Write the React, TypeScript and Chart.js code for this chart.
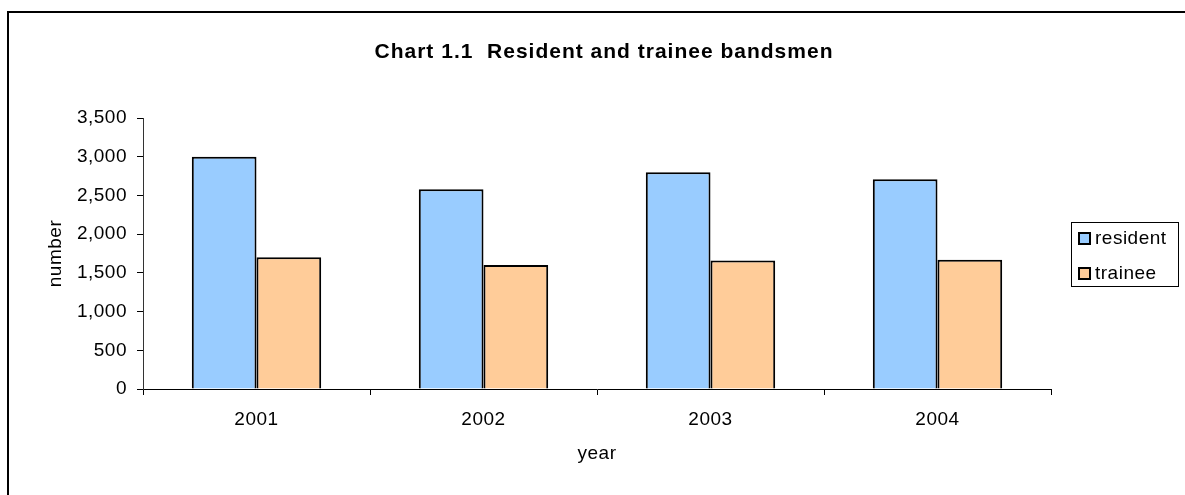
import React, { useEffect, useRef } from "react";
import { Chart, registerables } from "chart.js";

Chart.register(...registerables);

const years = ["2001", "2002", "2003", "2004"];
const resident = [3000, 2580, 2800, 2710];
const trainee = [1700, 1600, 1660, 1670];
const yTicks = [0, 500, 1000, 1500, 2000, 2500, 3000, 3500];
const chartTitle = "Chart 1.1  Resident and trainee bandsmen";
const seriesNames = ["resident", "trainee"];
const seriesColors = ["#99CCFF", "#FFCC99"];

const FONT = "'Liberation Sans', Arial, sans-serif";
const SPACING = "0.5px";

const spacingPlugin = {
  id: "spacing",
  beforeUpdate(chart: any) {
    chart.ctx.letterSpacing = SPACING;
  },
  beforeDraw(chart: any) {
    chart.ctx.letterSpacing = SPACING;
  },
};

const framePlugin = {
  id: "frame",
  afterDraw(chart: any) {
    const ctx = chart.ctx;
    ctx.save();
    // outer border
    ctx.strokeStyle = "#000";
    ctx.lineWidth = 2;
    ctx.strokeRect(8, 12, 1400, 700);
    // title
    ctx.letterSpacing = "1px";
    ctx.font = `bold 21px ${FONT}`;
    ctx.fillStyle = "#000";
    ctx.textAlign = "center";
    ctx.textBaseline = "middle";
    ctx.fillText(chartTitle, 604, 52);
    // legend
    ctx.letterSpacing = SPACING;
    ctx.lineWidth = 1;
    ctx.strokeStyle = "#000";
    ctx.strokeRect(1071.5, 222.5, 107, 64);
    ctx.font = `19px ${FONT}`;
    ctx.textAlign = "left";
    const ys = [232, 267];
    seriesNames.forEach((name, i) => {
      ctx.fillStyle = seriesColors[i];
      ctx.fillRect(1078, ys[i], 13, 13);
      ctx.lineWidth = 2;
      ctx.strokeStyle = "#000";
      ctx.strokeRect(1079, ys[i] + 1, 11, 11);
      ctx.fillStyle = "#000";
      ctx.fillText(name, 1095, ys[i] + 7);
    });
    ctx.restore();
  },
};

export default function App() {
  const ref = useRef<HTMLCanvasElement | null>(null);
  useEffect(() => {
    if (!ref.current) return;
    const chart = new Chart(ref.current, {
      type: "bar",
      data: {
        labels: years,
        datasets: [
          {
            label: seriesNames[0],
            data: resident,
            backgroundColor: seriesColors[0],
            borderColor: "#000",
            borderWidth: 2,
            categoryPercentage: 0.57,
            barPercentage: 1,
          },
          {
            label: seriesNames[1],
            data: trainee,
            backgroundColor: seriesColors[1],
            borderColor: "#000",
            borderWidth: 2,
            categoryPercentage: 0.57,
            barPercentage: 1,
          },
        ],
      },
      options: {
        responsive: false,
        animation: false,
        layout: { padding: { left: 0, top: 118, right: 134, bottom: 0 } },
        plugins: {
          legend: { display: false },
          title: { display: false },
          tooltip: { enabled: false },
        },
        scales: {
          x: {
            afterFit(scale: any) {
              scale.height = 106;
            },
            grid: {
              display: true,
              drawOnChartArea: false,
              drawTicks: true,
              tickLength: 6,
              color: "#000",
              offset: true,
            },
            border: { display: true, color: "#000", width: 1 },
            ticks: {
              color: "#000",
              font: { family: FONT, size: 19 },
              padding: 13,
              maxRotation: 0,
            },
            title: {
              display: true,
              text: "year",
              color: "#000",
              font: { family: FONT, size: 19 },
              padding: { top: 0, bottom: 30 },
            },
          },
          y: {
            min: 0,
            max: 3500,
            afterFit(scale: any) {
              scale.width = 143;
            },
            afterBuildTicks(scale: any) {
              scale.ticks = yTicks.map((v) => ({ value: v }));
            },
            grid: {
              display: true,
              drawOnChartArea: false,
              drawTicks: true,
              tickLength: 6,
              color: "#000",
            },
            border: { display: true, color: "#333", width: 1 },
            ticks: {
              color: "#000",
              font: { family: FONT, size: 19 },
              padding: 10,
              callback: (v: any) => Number(v).toLocaleString("en-US"),
            },
            title: {
              display: true,
              text: "number",
              color: "#000",
              font: { family: FONT, size: 19 },
              padding: { top: 44, bottom: 0 },
            },
          },
        },
      },
      plugins: [spacingPlugin, framePlugin],
    });
    return () => chart.destroy();
  }, []);
  return (
    <div
      style={{
        position: "fixed",
        left: 0,
        top: 0,
        width: 1185,
        height: 495,
        background: "#fff",
      }}
    >
      <canvas ref={ref} width={1185} height={495} style={{ display: "block" }} />
    </div>
  );
}
